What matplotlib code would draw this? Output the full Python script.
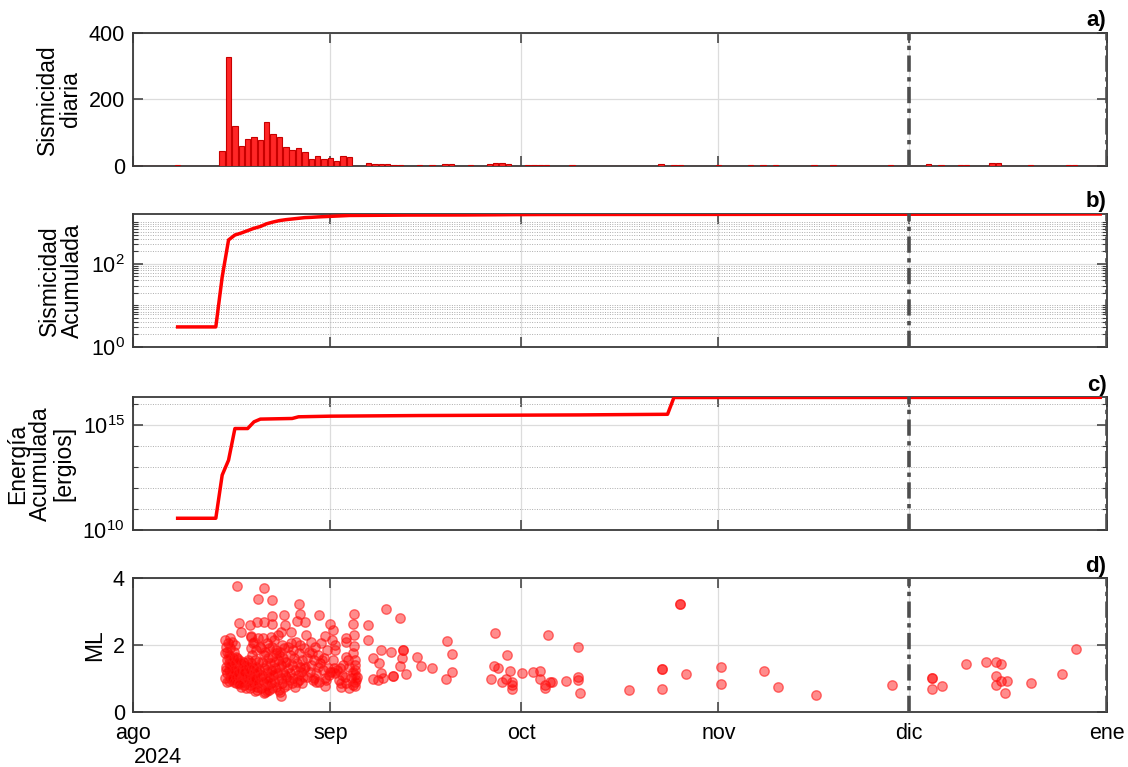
import matplotlib
matplotlib.use("Agg")
import matplotlib.pyplot as plt
import matplotlib.ticker as mticker
import numpy as np
import pandas as pd

plt.rcParams["font.family"] = ["Liberation Sans", "DejaVu Sans"]
plt.rcParams["mathtext.default"] = "regular"

START = pd.Timestamp("2024-08-01")
N_DAYS = 153  # 1 ago 2024 .. 31 dic 2024

# --- daily seismicity (days since 1 Aug 2024, only non-zero days) ---
count_days = [7, 14, 15, 16, 17, 18, 19, 20, 21, 22, 23, 24, 25, 26, 27, 28, 29, 30,
              31, 32, 33, 34, 37, 38, 39, 40, 41, 42, 45, 47, 49, 50, 53, 56, 57, 58,
              59, 62, 63, 64, 65, 69, 83, 85, 86, 92, 97, 99, 101, 107, 110, 119, 125,
              127, 130, 131, 135, 136, 141, 147, 148]
count_values = [3, 45, 329, 120, 58, 80, 87, 76, 131, 94, 85, 57, 48, 53, 41, 20, 30, 21,
                24, 15, 28, 27, 9, 5, 6, 6, 3, 3, 1, 1, 4, 4, 2, 6, 8, 7,
                6, 3, 3, 3, 2, 2, 4, 2, 1, 2, 2, 1, 1, 1, 1, 1, 6,
                1, 1, 1, 7, 7, 1, 1, 1]

# --- cumulative energy, log10(ergios) ---
energy_days = [7, 13, 14, 15, 16, 18, 19, 20, 25, 26, 31, 45, 70, 84, 85, 125, 152]
energy_log = [10.56, 10.56, 12.62, 13.33, 14.84, 14.84, 15.16, 15.29, 15.32, 15.40,
              15.43, 15.46, 15.49, 15.52, 16.32, 16.325, 16.33]

# --- magnitudes ML (days since 1 Aug 2024) ---
swarm_a_days = [14.5, 14.6, 14.5, 14.7, 14.6, 14.8, 14.5, 14.7, 14.9, 14.8, 15.0, 15.1,
                15.0, 15.2, 15.1, 15.3, 15.2, 15.0, 15.4, 15.5, 15.4, 15.6, 15.5, 15.3,
                15.7, 15.8, 15.6, 15.9, 15.8, 16.0, 15.9, 16.1, 16.2, 16.0, 16.2, 14.6]
swarm_a_ml = [2.15, 1.95, 1.75, 1.55, 1.35, 1.15, 1.00, 0.88, 2.05, 1.80, 1.62, 1.45,
              1.25, 1.05, 0.92, 2.20, 1.90, 1.70, 1.50, 1.30, 1.10, 0.95, 2.10, 1.40,
              1.60, 1.20, 1.00, 1.80, 0.90, 1.45, 1.25, 1.05, 1.65, 2.00, 0.85, 1.25]

swarm_b_days = [16.4, 16.5, 16.6, 16.7, 16.8, 16.5, 16.9, 17.0, 17.1, 16.7, 17.2, 17.3,
                17.4, 17.5, 17.2, 17.6, 17.7, 17.8, 17.9, 17.5, 18.0, 18.1, 18.2, 18.3,
                18.0, 18.4, 18.5, 18.6, 18.7, 18.3, 18.8, 18.9, 19.0, 19.1, 18.7, 19.2,
                19.3, 19.4, 19.5, 19.1, 19.6, 19.7, 19.8, 19.9, 19.5, 18.6, 18.9, 19.3,
                19.7, 19.9, 19.0, 18.5]
swarm_b_ml = [1.60, 1.30, 1.05, 0.85, 1.45, 1.15, 0.75, 1.25, 1.00, 1.55, 0.90, 1.40,
              1.15, 0.80, 1.50, 1.30, 1.05, 0.70, 1.50, 1.20, 0.95, 1.35, 1.10, 0.80,
              1.55, 1.25, 0.90, 1.45, 1.05, 0.70, 1.30, 0.85, 1.15, 1.55, 1.70, 0.95,
              1.35, 0.75, 1.20, 1.00, 1.50, 0.85, 1.25, 1.05, 0.65, 2.25, 2.05, 1.85,
              2.20, 1.95, 2.10, 1.90]

swarm_c_days = [20.1, 20.2, 20.3, 20.1, 20.4, 20.5, 20.6, 20.4, 20.7, 20.8, 20.9, 20.7,
                21.0, 21.1, 21.2, 21.0, 21.3, 21.4, 21.5, 21.3, 21.6, 21.7, 21.8, 21.6,
                21.9, 22.0, 22.1, 21.9, 22.2, 22.3, 22.4, 22.2, 22.5, 22.6, 22.7, 22.5,
                22.8, 22.9, 23.0, 22.8, 23.1, 23.2, 23.3, 23.1, 23.4, 23.5, 23.6, 23.4,
                23.7, 23.8, 23.9, 23.7, 20.5, 21.2, 22.0, 23.0]
swarm_c_ml = [0.70, 1.10, 1.50, 1.90, 0.90, 1.30, 1.70, 2.20, 0.60, 1.00, 1.40, 1.80,
              0.80, 1.20, 1.60, 2.05, 0.65, 1.05, 1.45, 1.90, 0.85, 1.25, 1.65, 2.25,
              0.70, 1.10, 1.50, 1.95, 0.90, 1.30, 1.75, 2.15, 0.75, 1.15, 1.55, 1.85,
              0.95, 1.35, 1.70, 2.30, 0.60, 1.00, 1.40, 1.80, 0.85, 1.20, 1.60, 2.00,
              0.75, 1.10, 1.50, 1.90, 0.55, 0.95, 1.20, 0.65]

swarm_d_days = [24.0, 24.1, 24.2, 24.3, 24.4, 24.5, 24.6, 24.7, 24.8, 24.9, 25.0, 25.1,
                25.2, 25.3, 25.4, 25.5, 25.6, 25.7, 25.8, 25.9, 26.0, 26.1, 26.2, 26.3,
                26.4, 26.5, 26.6, 26.7, 26.8, 26.9]
swarm_d_ml = [1.05, 1.50, 0.80, 1.95, 1.30, 0.95, 1.70, 1.15, 2.05, 0.85, 1.40, 1.85,
              1.00, 1.60, 0.75, 1.25, 2.10, 0.90, 1.45, 1.10, 1.75, 0.95, 1.35, 2.00,
              1.20, 0.85, 1.55, 1.05, 1.90, 1.30]

swarm_e_days = [27.0, 27.2, 27.4, 27.6, 27.8, 28.0, 28.2, 28.4, 28.6, 28.8, 29.0, 29.2,
                29.4, 29.6, 29.8, 30.0, 30.2, 30.4, 30.6, 30.8, 27.3, 27.9, 28.5, 29.1,
                29.7, 30.3, 30.9, 28.1]
swarm_e_ml = [1.35, 2.30, 1.05, 1.80, 1.20, 2.10, 0.95, 1.55, 1.95, 1.15, 1.70, 0.90,
              1.45, 2.05, 1.25, 1.60, 1.00, 1.85, 1.30, 1.10, 1.60, 1.40, 1.00, 1.35,
              1.55, 0.95, 1.20, 1.75]

swarm_f_days = [31.2, 31.5, 31.8, 32.0, 32.3, 32.5, 32.8, 33.0, 33.3, 33.5, 33.8, 34.0,
                34.3, 34.5, 34.8, 35.2, 34.8, 34.8, 34.8, 34.8, 34.8, 31.4, 32.6, 33.4,
                34.6, 35.0]
swarm_f_ml = [1.20, 1.30, 1.15, 1.25, 0.95, 1.30, 1.10, 1.40, 1.05, 0.85, 1.55, 1.35,
              1.00, 0.80, 1.40, 1.05, 1.55, 1.25, 1.10, 0.90, 0.76, 1.55, 0.85, 1.65,
              1.20, 0.95]

outlier_days = [16.4, 20.5, 19.6, 21.9, 26.1, 26.2, 29.2, 34.7, 21.8, 23.7, 16.7, 18.4,
                19.5, 20.6, 21.9, 23.8, 25.7, 27.0, 30.9, 31.4, 34.5, 36.9, 17.0, 23.3,
                24.8, 30.1, 33.4, 34.7, 36.9, 18.6, 31.2, 31.7, 31.8, 33.5, 34.7, 34.6,
                30.1, 32.6, 33.9, 23.2, 19.1, 21.0, 16.7, 28.8]
outlier_ml = [3.76, 3.70, 3.39, 3.36, 3.23, 2.92, 2.89, 2.93, 2.87, 2.89, 2.65, 2.60,
              2.70, 2.68, 2.62, 2.59, 2.72, 2.68, 2.63, 2.44, 2.62, 2.60, 2.38, 2.38,
              2.38, 2.27, 2.22, 2.29, 2.14, 2.28, 2.15, 2.00, 1.85, 2.10, 1.97, 1.75,
              0.76, 0.73, 0.71, 0.48, 0.61, 0.61, 0.83, 0.88]

late_days = [37.7, 38.7, 38.9, 40.5, 42.4, 42.4, 42.2, 41.9, 39.0, 37.7, 38.5, 39.3,
             40.9, 40.9, 42.9, 44.6, 45.2, 47.0, 49.3, 50.1, 50.1, 49.2, 56.9, 58.8,
             56.8, 57.4, 59.2, 56.3, 58.6, 58.0, 59.5, 59.5, 59.5, 61.2, 62.9, 64.0,
             63.9, 65.2, 64.7, 64.7, 65.5, 65.9, 68.0, 70.0, 70.0, 70.0, 70.2, 78.0,
             83.2, 83.2, 83.2, 86.0, 86.0, 86.9, 92.4, 92.4, 99.2, 101.4, 107.3, 119.3,
             125.5, 125.5, 125.5, 127.1, 130.9, 134.0, 135.6, 136.4, 135.6, 136.4, 137.4,
             135.6, 137.0, 141.2, 146.0, 148.2, 39.7, 42.0]
late_ml = [1.62, 1.45, 1.85, 1.80, 1.85, 1.85, 1.60, 1.38, 1.17, 0.98, 0.96, 1.00,
           1.07, 1.07, 1.12, 1.63, 1.38, 1.32, 2.12, 1.74, 1.19, 0.99, 2.37, 1.69,
           1.38, 1.30, 1.23, 0.99, 0.99, 0.89, 0.90, 0.81, 0.68, 1.15, 1.18, 1.21,
           0.98, 2.30, 0.81, 0.71, 0.89, 0.89, 0.92, 1.93, 1.05, 0.96, 0.57, 0.66,
           1.28, 1.28, 0.67, 3.22, 3.22, 1.14, 1.35, 0.84, 1.22, 0.74, 0.50, 0.81,
           1.00, 1.00, 0.69, 0.76, 1.44, 1.49, 1.50, 1.44, 1.07, 0.93, 0.93,
           0.80, 0.56, 0.86, 1.14, 1.89, 3.07, 2.80]

MONTH_TICKS = ["2024-08-01", "2024-09-01", "2024-10-01", "2024-11-01", "2024-12-01", "2025-01-01"]
MONTH_LABELS = ["ago", "sep", "oct", "nov", "dic", "ene"]
MARK_DATES = ["2024-12-01", "2025-01-01"]

AX_COLOR = "#3a3a3a"


def to_dates(days):
    return (START + pd.to_timedelta(np.asarray(days, dtype=float), unit="D")).values


def style_axis(ax, label, panel):
    ax.set_xlim(np.datetime64(MONTH_TICKS[0]), np.datetime64(MONTH_TICKS[-1]))
    ax.set_xticks([np.datetime64(d) for d in MONTH_TICKS])
    ax.xaxis.set_minor_locator(mticker.NullLocator())
    ax.grid(True, which="major", color="#dcdcdc", lw=0.9)
    ax.tick_params(which="major", direction="in", top=True, right=True, length=7,
                   width=1.1, color=AX_COLOR, labelsize=15.5, pad=6)
    ax.tick_params(which="minor", direction="in", top=True, right=True, length=3.5,
                   width=0.8, color=AX_COLOR)
    for sp in ax.spines.values():
        sp.set_color(AX_COLOR)
        sp.set_linewidth(1.3)
    for d in MARK_DATES:
        ax.axvline(np.datetime64(d), color="#4d4d4d", lw=2.6,
                   ls=(0, (4.5, 1.5, 1.2, 1.5)), zorder=5)
    ax.set_ylabel(label, fontsize=16.5, linespacing=1.0, labelpad=5)
    ax.text(1.0, 1.012, panel, transform=ax.transAxes, ha="right", va="bottom",
            fontsize=16, fontweight="bold")
    ax.set_axisbelow(True)


def log_ticks(ax, majors, minors):
    ax.set_yscale("log")
    ax.yaxis.set_major_locator(mticker.FixedLocator(majors))
    ax.yaxis.set_minor_locator(mticker.FixedLocator(minors))
    ax.yaxis.set_major_formatter(
        mticker.FuncFormatter(lambda v, _: r"$10^{%d}$" % round(np.log10(v))))
    ax.yaxis.set_minor_formatter(mticker.NullFormatter())
    ax.grid(True, which="minor", axis="y", color="#adadad", ls=(0, (1, 1.5)), lw=0.7)


daily = np.zeros(N_DAYS)
daily[count_days] = count_values
all_dates = to_dates(np.arange(N_DAYS))

first = count_days[0]
cum = np.cumsum(daily[first:])
cum_dates = to_dates(np.arange(first, N_DAYS))

ml_days = np.concatenate([swarm_a_days, swarm_b_days, swarm_c_days, swarm_d_days,
                          swarm_e_days, swarm_f_days, outlier_days, late_days])
ml_vals = np.concatenate([swarm_a_ml, swarm_b_ml, swarm_c_ml, swarm_d_ml,
                          swarm_e_ml, swarm_f_ml, outlier_ml, late_ml])

fig = plt.figure(figsize=(11.28, 7.67), dpi=100)
left, width = 0.118, 0.863
ax1 = fig.add_axes([left, 0.784, width, 0.173])
ax2 = fig.add_axes([left, 0.548, width, 0.173], sharex=ax1)
ax3 = fig.add_axes([left, 0.309, width, 0.173], sharex=ax1)
ax4 = fig.add_axes([left, 0.072, width, 0.174], sharex=ax1)

# a) daily seismicity
ax1.bar(all_dates, daily, width=0.85, color="#ff2626", edgecolor="#c80000", lw=0.8, zorder=3)
ax1.set_ylim(0, 400)
ax1.set_yticks([0, 200, 400])

# b) cumulative seismicity
ax2.plot(cum_dates, cum, color="red", lw=2.5, zorder=4)
log_ticks(ax2, [1, 100, 1e4],
          [k * 10.0 ** e for e in range(0, 4) for k in range(1, 10) if not (k == 1 and e in (0, 2))])
ax2.set_ylim(1, cum[-1])

# c) cumulative energy
energy = 10.0 ** np.asarray(energy_log)
ax3.plot(to_dates(energy_days), energy, color="red", lw=2.5, zorder=4)
log_ticks(ax3, [1e10, 1e15, 1e20], [1e11, 1e12, 1e13, 1e14, 1e16, 1e17])
ax3.set_ylim(1e10, energy.max())

# d) magnitudes
ax4.scatter(to_dates(ml_days), ml_vals, s=46, facecolor=(1, 0, 0, 0.45),
            edgecolor=(1, 0.1, 0.1, 0.6), lw=1.0, zorder=4)
ax4.set_ylim(0, 4)
ax4.set_yticks([0, 2, 4])

style_axis(ax1, "Sismicidad\ndiaria", "a)")
style_axis(ax2, "Sismicidad\nAcumulada", "b)")
style_axis(ax3, "Energía\nAcumulada\n[ergios]", "c)")
style_axis(ax4, "ML", "d)")

for ax in (ax1, ax2, ax3):
    ax.tick_params(labelbottom=False)
ax4.set_xticklabels(MONTH_LABELS)
ax4.tick_params(axis="x", pad=8)
fig.text(0.119, 0.012, "2024", ha="left", va="center", fontsize=15.5)

fig.savefig("out.png", dpi=100)
